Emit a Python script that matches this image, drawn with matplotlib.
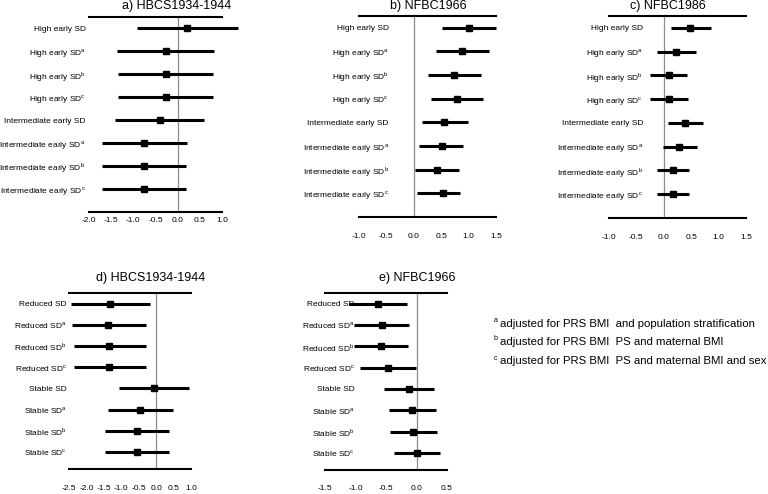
import numpy as np
import matplotlib
matplotlib.use('Agg')
import matplotlib.pyplot as plt

plt.rcParams['font.family'] = ['Liberation Sans', 'DejaVu Sans']
plt.rcParams['mathtext.fontset'] = 'custom'
plt.rcParams['mathtext.rm'] = 'Liberation Sans'

# row labels
sup = [r'', r'$^{\mathrm{a}}$', r'$^{\mathrm{b}}$', r'$^{\mathrm{c}}$']
early_labels = ['High early SD' + s for s in sup] + ['Intermediate early SD' + s for s in sup]
late_labels = ['Reduced SD' + s for s in sup] + ['Stable SD' + s for s in sup]

# a) HBCS1934-1944, early SD
a_est = [0.22, -0.27, -0.27, -0.27, -0.40, -0.76, -0.76, -0.76]
a_lo = [-0.92, -1.36, -1.35, -1.35, -1.41, -1.71, -1.70, -1.70]
a_hi = [1.37, 0.82, 0.80, 0.80, 0.60, 0.20, 0.19, 0.19]

# b) NFBC1966, early SD
b_est = [1.01, 0.88, 0.73, 0.79, 0.56, 0.51, 0.42, 0.53]
b_lo = [0.51, 0.41, 0.26, 0.32, 0.15, 0.10, 0.02, 0.05]
b_hi = [1.50, 1.37, 1.22, 1.26, 0.99, 0.90, 0.83, 0.85]

# c) NFBC1986, early SD
c_est = [0.48, 0.22, 0.09, 0.09, 0.39, 0.28, 0.16, 0.16]
c_lo = [0.13, -0.13, -0.26, -0.26, 0.07, -0.02, -0.13, -0.13]
c_hi = [0.86, 0.59, 0.43, 0.44, 0.72, 0.60, 0.46, 0.46]

# d) HBCS1934-1944, later SD
d_est = [-1.31, -1.37, -1.34, -1.34, -0.06, -0.45, -0.56, -0.56]
d_lo = [-2.44, -2.40, -2.37, -2.37, -1.06, -1.38, -1.48, -1.48]
d_hi = [-0.17, -0.30, -0.28, -0.28, 0.94, 0.49, 0.38, 0.38]

# e) NFBC1966, later SD
e_est = [-0.63, -0.57, -0.59, -0.47, -0.13, -0.07, -0.05, 0.01]
e_lo = [-1.11, -1.02, -1.03, -0.92, -0.53, -0.45, -0.43, -0.37]
e_hi = [-0.15, -0.13, -0.14, -0.01, 0.28, 0.32, 0.33, 0.39]

footnotes = ['adjusted for PRS BMI  and population stratification',
             'adjusted for PRS BMI  PS and maternal BMI',
             'adjusted for PRS BMI  PS and maternal BMI and sex']
foot_letters = ['a', 'b', 'c']

W, H = 768, 494
fig = plt.figure(figsize=(W / 100, H / 100), dpi=100)


def make_axes(x0, x1, y0, y1):
    return fig.add_axes([x0 / W, 1 - y1 / H, (x1 - x0) / W, (y1 - y0) / H])


def forest(ax, est, lo, hi, labels, xlim, xticks, ybottom, ypad, xpad):
    rows = np.arange(1, len(est) + 1)
    ax.axvline(0, color='#8c8c8c', lw=0.9, zorder=1)
    ax.hlines(rows, lo, hi, color='black', lw=2.2, clip_on=False, zorder=2)
    ax.plot(est, rows, 's', color='black', markersize=5, clip_on=False, zorder=3)
    ax.set_xlim(xlim)
    ax.set_ylim(ybottom, 0.5)
    ax.set_xticks(xticks)
    ax.set_xticklabels(['%.1f' % t for t in xticks])
    ax.set_yticks(rows)
    ax.set_yticklabels(labels)
    for s in ['left', 'right']:
        ax.spines[s].set_visible(False)
    for s in ['top', 'bottom']:
        ax.spines[s].set_linewidth(1.5)
    ax.tick_params(axis='x', length=0, labelsize=6, pad=xpad)
    ax.tick_params(axis='y', length=0, labelsize=6, pad=ypad)
    ax.patch.set_alpha(0)


ax_a = make_axes(89, 222, 17, 212)
forest(ax_a, a_est, a_lo, a_hi, early_labels, (-2.0, 1.0),
       np.arange(-2.0, 1.01, 0.5), 9.0, 2.5, 3.5)

ax_b = make_axes(359, 496, 16, 217)
forest(ax_b, b_est, b_lo, b_hi, early_labels, (-1.0, 1.5),
       np.arange(-1.0, 1.51, 0.5), 9.0, -21.5, 11.5)

ax_c = make_axes(609, 746, 16, 218)
forest(ax_c, c_est, c_lo, c_hi, early_labels, (-1.0, 1.5),
       np.arange(-1.0, 1.51, 0.5), 9.0, -24.5, 11.5)

ax_d = make_axes(69, 191, 293, 469)
forest(ax_d, d_est, d_lo, d_hi, late_labels, (-2.5, 1.0),
       np.arange(-2.5, 1.01, 0.5), 8.8, 1.5, 11.5)

ax_e = make_axes(325, 447, 293, 470)
forest(ax_e, e_est, e_lo, e_hi, late_labels, (-1.5, 0.5),
       np.arange(-1.5, 0.51, 0.5), 8.8, -21.5, 10.5)

# titles
titles = ['a) HBCS1934-1944', 'b) NFBC1966', 'c) NFBC1986', 'd) HBCS1934-1944', 'e) NFBC1966']
title_pos = [(177, 6), (428, 6), (668, 6), (151, 278), (417, 278)]
for t, (x, y) in zip(titles, title_pos):
    fig.text(x / W, 1 - y / H, t, ha='center', va='center', fontsize=9)

# footnotes
for i, (l, t) in enumerate(zip(foot_letters, footnotes)):
    y = [324, 342, 361][i]
    fig.text(494 / W, 1 - (y - 3) / H, l, ha='left', va='center', fontsize=5)
    fig.text(500 / W, 1 - y / H, t, ha='left', va='center', fontsize=8.2)

fig.savefig('out.png', dpi=100)
